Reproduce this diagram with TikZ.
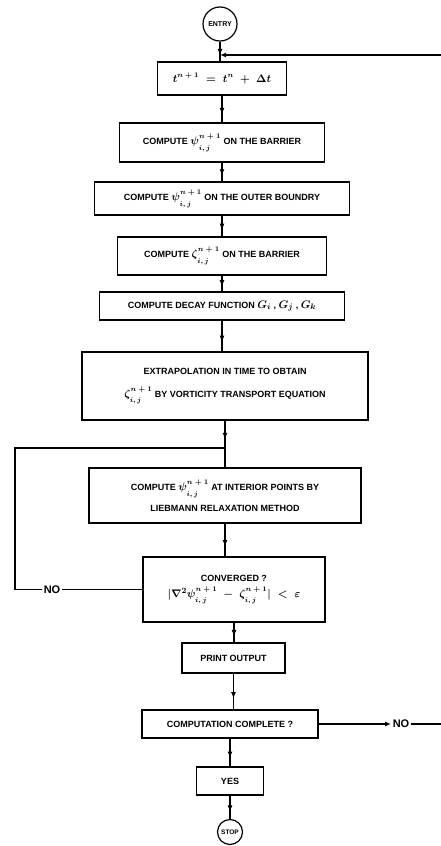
\documentclass[tikz,border=0pt]{standalone}
\usepackage{fontspec}
\setmainfont{Liberation Sans}
\usetikzlibrary{arrows.meta,decorations.markings}
\newcommand\fld[3]{{\fontsize{11}{12}\selectfont$#1^{\raisebox{2pt}{\fontsize{7.5}{8}\selectfont$#2$}}_{\raisebox{-2.5pt}{\fontsize{7.5}{8}\selectfont$#3$}}$}}
\newcommand\mth[1]{{\fontsize{11}{12}\selectfont$#1$}}
\begin{document}
\begin{tikzpicture}[x=1pt,y=-1pt,
  box/.style={draw, line width=1.2pt, font=\bfseries\boldmath\fontsize{9}{11}\selectfont, align=center, inner sep=0pt},
  term/.style={draw, circle, line width=1.2pt, font=\bfseries\fontsize{7}{8}\selectfont, inner sep=0pt},
  lbl/.style={font=\bfseries\fontsize{11}{12}\selectfont, inner sep=1.5pt},
  conn/.style={line width=1.2pt},
  flow/.style={line width=1.2pt, postaction={decorate},
    decoration={markings, mark=at position #1 with {\arrow{Latex[length=6.5pt,width=5pt]}}}},
  flow/.default=0.7,
  tipped/.style={line width=1.2pt, -{Latex[length=6pt,width=5pt]}}]
\useasboundingbox (0,0) rectangle (441,846);

\node[term, minimum size=34pt] (entry) at (220,24) {ENTRY};
\node[box, minimum width=129pt, minimum height=33pt] (b1) at (222,78.5) {\mth{t^{\raisebox{1pt}{\fontsize{7.5}{8}\selectfont$n+1$}} \;=\; t^{\raisebox{1pt}{\fontsize{7.5}{8}\selectfont$n$}} \;+\; \Delta t}};
\node[box, minimum width=205pt, minimum height=39pt] (b2) at (222,142.5) {COMPUTE \fld{\psi}{n+1}{i,j} ON THE BARRIER};
\node[box, minimum width=255pt, minimum height=33pt] (b3) at (222,198.5) {COMPUTE \fld{\psi}{n+1}{i,j} ON THE OUTER BOUNDRY};
\node[box, minimum width=209pt, minimum height=38pt] (b4) at (222,256) {COMPUTE \fld{\zeta}{n+1}{i,j} ON THE BARRIER};
\node[box, minimum width=245pt, minimum height=28pt] (b5) at (222,306) {COMPUTE DECAY FUNCTION \mth{G_i} , \mth{G_j} , \mth{G_k}};
\node[box, minimum width=286pt, minimum height=68pt] (b6) at (225,386) {EXTRAPOLATION IN TIME TO OBTAIN\\[12pt] \fld{\zeta}{n+1}{i,j} BY VORTICITY TRANSPORT EQUATION};
\node[box, minimum width=272pt, minimum height=55pt] (b7) at (225,495.5) {COMPUTE \fld{\psi}{n+1}{i,j} AT INTERIOR POINTS BY\\[6pt] LIEBMANN RELAXATION METHOD};
\node[box, minimum width=182pt, minimum height=65pt] (b8) at (234,589.5) {CONVERGED ?\\[5pt] \mth{\big|\nabla^2}\fld{\psi}{n+1}{i,j} \mth{\;-\;} \fld{\zeta}{n+1}{i,j}\mth{\big| \;<\; \varepsilon}};
\node[box, minimum width=103pt, minimum height=30pt] (b9) at (233.5,658) {PRINT OUTPUT};
\node[box, minimum width=176pt, minimum height=28pt] (b10) at (230,724) {COMPUTATION COMPLETE ?};
\node[box, minimum width=67pt, minimum height=28pt] (b11) at (230,781) {YES};
\node[term, minimum size=25pt, font=\bfseries\fontsize{6.5}{7}\selectfont] (stop) at (230,832) {STOP};

\node[lbl] (no1) at (52,589.5) {NO};
\node[lbl] (no2) at (401,724) {NO};

\coordinate (y55) at (0,55);
\coordinate (y448) at (0,448);
\coordinate (jt) at (entry.south |- y55);
\coordinate (rt) at (445,55);
\coordinate (re) at (445,724);
\coordinate (jl) at (15,448);
\coordinate (nl) at (15,589.5);
\coordinate (j1) at (b7.north |- y448);

\draw[flow] (entry.south) -- (entry.south |- b1.north);
\draw[flow] (b1.south) -- (b2.north);
\draw[flow] (b2.south) -- (b3.north);
\draw[flow] (b3.south) -- (b4.north);
\draw[flow] (b4.south) -- (b5.north);
\draw[flow] (b5.south) -- (b5.south |- b6.north);
\draw[flow=0.4] (b6.south) -- (b7.north);
\draw[flow] (b7.south) -- (b7.south |- b8.north);
\draw[flow] (b8.south) -- (b8.south |- b9.north);
\draw[flow] (b9.south) -- (b9.south |- b10.north);
\draw[flow] (b10.south) -- (b11.north);
\draw[flow] (b11.south) -- (stop.north);

\draw[conn] (b8.west) -- (no1);
\draw[conn] (no1) -- (nl) -- (jl) -- (j1);

\draw[tipped] (b10.east) -- (no2);
\draw[tipped] (no2) -- (re) -- (rt) -- (jt);
\end{tikzpicture}
\end{document}
